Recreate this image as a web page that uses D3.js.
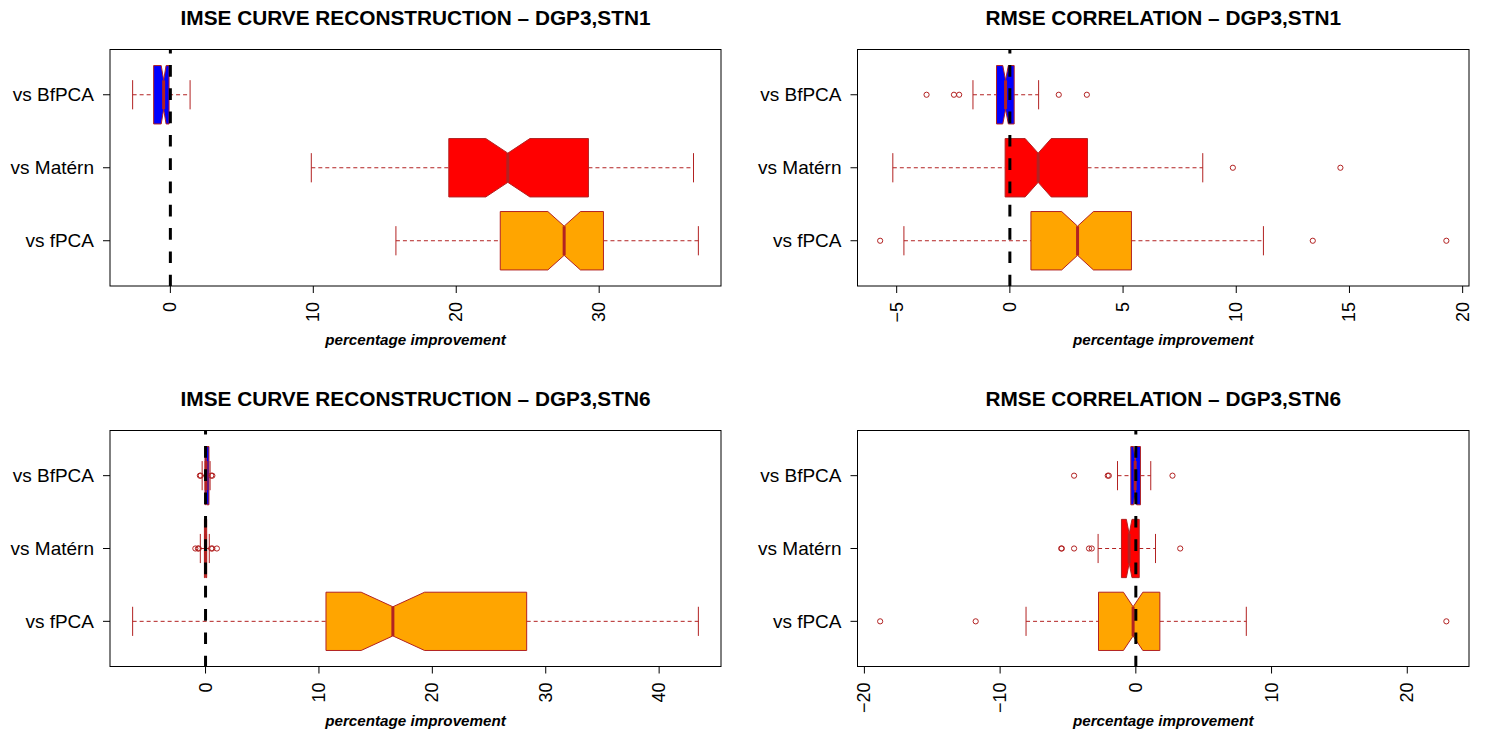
<!DOCTYPE html>
<html>
<head>
<meta charset="utf-8">
<script src="https://cdn.jsdelivr.net/npm/d3@7"></script>
<style>
  html, body { margin: 0; padding: 0; background: #fff; }
  svg { display: block; font-family: "Liberation Sans", Arial, Helvetica, sans-serif; }
</style>
</head>
<body>
<svg id="chart" width="1485" height="735"></svg>
<script>
// Groups, bottom to top within each panel
const groupLabels = ["vs fPCA", "vs Matérn", "vs BfPCA"];
const groupFills = ["#FFA500", "#FF0000", "#0000FF"];
const sampleSize = 100; // replicates per comparison (sets notch width)

// Box statistics per group: [lower whisker, Q1, median, Q3, upper whisker]
const imseStn1Stats = [
  [15.78, 23.08, 27.55, 30.30, 36.94],
  [9.86, 19.48, 23.61, 29.25, 36.60],
  [-2.64, -1.17, -0.47, -0.09, 1.38]
];
const imseStn1Outliers = [[], [], []];
const imseStn1Ticks = [0, 10, 20, 30];

const rmseStn1Stats = [
  [-4.68, 0.93, 2.99, 5.37, 11.20],
  [-5.17, -0.21, 1.25, 3.43, 8.52],
  [-1.63, -0.59, -0.19, 0.19, 1.27]
];
const rmseStn1Outliers = [
  [-5.73, 13.38, 19.28],
  [9.85, 14.60],
  [-3.68, -2.47, -2.24, 2.16, 3.40]
];
const rmseStn1Ticks = [-5, 0, 5, 10, 15, 20];

const imseStn6Stats = [
  [-6.43, 10.62, 16.52, 28.32, 43.46],
  [-0.46, -0.10, 0.00, 0.10, 0.33],
  [-0.30, -0.05, 0.05, 0.30, 0.40]
];
const imseStn6Outliers = [
  [],
  [-0.90, -0.67, -0.60, 0.50, 0.60, 1.00],
  [-0.50, -0.42, 0.50, 0.60]
];
const imseStn6Ticks = [0, 10, 20, 30, 40];

const rmseStn6Stats = [
  [-8.09, -2.75, -0.20, 1.77, 8.14],
  [-2.78, -1.06, -0.49, 0.25, 1.45],
  [-1.35, -0.37, -0.05, 0.34, 1.10]
];
const rmseStn6Outliers = [
  [-18.84, -11.80, 22.88],
  [-5.50, -5.45, -4.55, -3.45, -3.25, 3.27],
  [-4.55, -2.07, -1.99, 2.70]
];
const rmseStn6Ticks = [-20, -10, 0, 10, 20];

const panels = [
  { title: "IMSE CURVE RECONSTRUCTION – DGP3,STN1", stats: imseStn1Stats, outliers: imseStn1Outliers, ticks: imseStn1Ticks,
    left: 110, right: 721, top: 49.5, bottom: 286 },
  { title: "RMSE CORRELATION – DGP3,STN1", stats: rmseStn1Stats, outliers: rmseStn1Outliers, ticks: rmseStn1Ticks,
    left: 857.5, right: 1469, top: 49.5, bottom: 286 },
  { title: "IMSE CURVE RECONSTRUCTION – DGP3,STN6", stats: imseStn6Stats, outliers: imseStn6Outliers, ticks: imseStn6Ticks,
    left: 110, right: 721, top: 430.5, bottom: 666.5 },
  { title: "RMSE CORRELATION – DGP3,STN6", stats: rmseStn6Stats, outliers: rmseStn6Outliers, ticks: rmseStn6Ticks,
    left: 857.5, right: 1469, top: 430.5, bottom: 666.5 }
];

const lineCol = "#B22222";
const svg = d3.select("#chart");
svg.append("rect").attr("width", 1485).attr("height", 735).attr("fill", "#fff");

const fmt = v => v < 0 ? "\u2212" + Math.abs(v) : String(v);

panels.forEach((p, pi) => {
  // data range padded by 4% on each side
  const all = p.stats.flat().concat(p.outliers.flat());
  const lo = d3.min(all), hi = d3.max(all), pad = (hi - lo) * 0.04;
  const x = d3.scaleLinear().domain([lo - pad, hi + pad]).range([p.left, p.right]);
  const y = d3.scaleLinear().domain([0.38, 3.62]).range([p.bottom, p.top]);
  const halfW = 0.4;

  const g = svg.append("g");
  const clipId = "clip" + pi;
  svg.append("clipPath").attr("id", clipId)
    .append("rect").attr("x", p.left).attr("y", p.top)
    .attr("width", p.right - p.left).attr("height", p.bottom - p.top);

  const plot = g.append("g").attr("clip-path", `url(#${clipId})`);

  p.stats.forEach((s, i) => {
    const [wLo, q1, med, q3, wHi] = s;
    const pos = i + 1;
    const notch = 1.58 * (q3 - q1) / Math.sqrt(sampleSize);
    const box = plot.append("g");

    // whiskers
    box.append("line")
      .attr("x1", x(wLo)).attr("x2", x(q1)).attr("y1", y(pos)).attr("y2", y(pos))
      .attr("stroke", lineCol).attr("stroke-width", 1).attr("stroke-dasharray", "4,3");
    box.append("line")
      .attr("x1", x(q3)).attr("x2", x(wHi)).attr("y1", y(pos)).attr("y2", y(pos))
      .attr("stroke", lineCol).attr("stroke-width", 1).attr("stroke-dasharray", "4,3");
    // staples
    [wLo, wHi].forEach(v => {
      box.append("line")
        .attr("x1", x(v)).attr("x2", x(v))
        .attr("y1", y(pos - halfW / 2)).attr("y2", y(pos + halfW / 2))
        .attr("stroke", lineCol).attr("stroke-width", 1);
    });

    // notched box
    const pts = [
      [q1, pos - halfW], [med - notch, pos - halfW], [med, pos - halfW / 2],
      [med + notch, pos - halfW], [q3, pos - halfW], [q3, pos + halfW],
      [med + notch, pos + halfW], [med, pos + halfW / 2], [med - notch, pos + halfW],
      [q1, pos + halfW]
    ];
    box.append("path")
      .attr("d", d3.line().x(d => x(d[0])).y(d => y(d[1]))(pts) + "Z")
      .attr("fill", groupFills[i]).attr("stroke", lineCol).attr("stroke-width", 1)
      .attr("stroke-linejoin", "round");
    // median
    box.append("line")
      .attr("x1", x(med)).attr("x2", x(med))
      .attr("y1", y(pos - halfW / 2)).attr("y2", y(pos + halfW / 2))
      .attr("stroke", lineCol).attr("stroke-width", 3);

    // outliers
    box.selectAll("circle.out").data(p.outliers[i]).enter().append("circle")
      .attr("class", "out")
      .attr("cx", d => x(d)).attr("cy", y(pos)).attr("r", 2.6)
      .attr("fill", "none").attr("stroke", lineCol).attr("stroke-width", 1);
  });

  // reference line at zero
  plot.append("line")
    .attr("x1", x(0)).attr("x2", x(0)).attr("y1", p.top).attr("y2", p.bottom)
    .attr("stroke", "#000").attr("stroke-width", 3)
    .attr("stroke-dasharray", "11.7,11.6").attr("stroke-dashoffset", 7.8);

  // frame
  g.append("rect")
    .attr("x", p.left).attr("y", p.top)
    .attr("width", p.right - p.left).attr("height", p.bottom - p.top)
    .attr("fill", "none").attr("stroke", "#000").attr("stroke-width", 1);

  // x axis ticks and labels
  const xt = g.append("g");
  xt.selectAll("line").data(p.ticks).enter().append("line")
    .attr("x1", d => x(d)).attr("x2", d => x(d))
    .attr("y1", p.bottom).attr("y2", p.bottom + 7)
    .attr("stroke", "#000").attr("stroke-width", 1);
  xt.selectAll("text").data(p.ticks).enter().append("text")
    .attr("transform", d => `translate(${x(d)},${p.bottom + 16}) rotate(-90)`)
    .attr("text-anchor", "end").attr("dominant-baseline", "central")
    .attr("font-size", 18).attr("fill", "#000")
    .text(fmt);

  // y axis ticks and labels
  const yt = g.append("g");
  yt.selectAll("line").data(groupLabels).enter().append("line")
    .attr("x1", p.left - 7).attr("x2", p.left)
    .attr("y1", (d, i) => y(i + 1)).attr("y2", (d, i) => y(i + 1))
    .attr("stroke", "#000").attr("stroke-width", 1);
  yt.selectAll("text").data(groupLabels).enter().append("text")
    .attr("x", p.left - 16).attr("y", (d, i) => y(i + 1))
    .attr("text-anchor", "end").attr("dominant-baseline", "central")
    .attr("font-size", 19).attr("fill", "#000")
    .text(d => d);

  // title
  g.append("text")
    .attr("x", (p.left + p.right) / 2).attr("y", p.top - 24.5)
    .attr("text-anchor", "middle").attr("font-size", 20.8).attr("font-weight", "bold")
    .text(p.title);

  // x axis title
  g.append("text")
    .attr("x", (p.left + p.right) / 2).attr("y", p.bottom + 59)
    .attr("text-anchor", "middle").attr("font-size", 15.2)
    .attr("font-weight", "bold").attr("font-style", "italic")
    .text("percentage improvement");
});
</script>
</body>
</html>
